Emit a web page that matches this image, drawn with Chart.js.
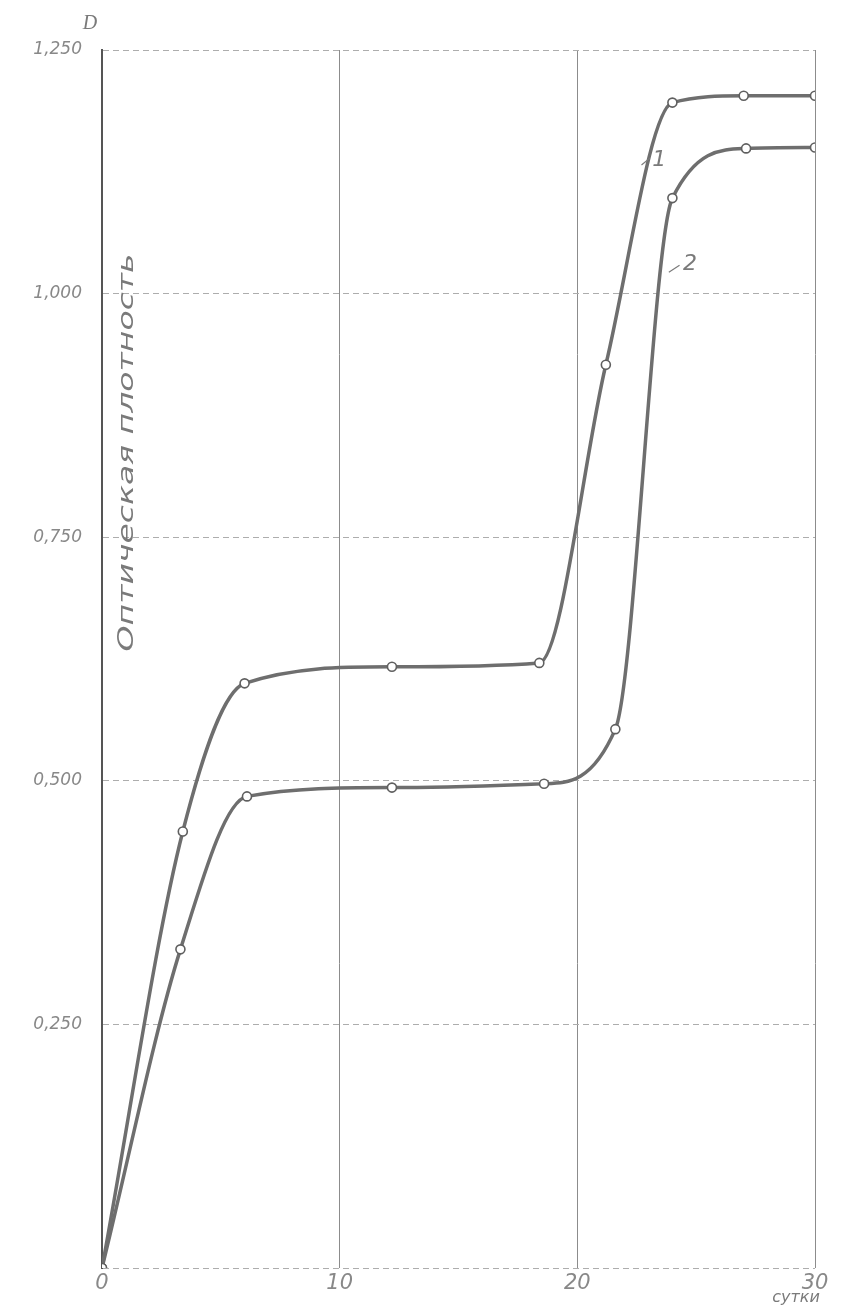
<!DOCTYPE html>
<html>
<head>
<meta charset="utf-8">
<title>Оптическая плотность</title>
<script src="https://cdn.jsdelivr.net/npm/chart.js@4.4.1/dist/chart.umd.min.js"></script>
<style>
  html, body { margin: 0; padding: 0; background: #fff; }
  #wrap { width: 856px; height: 1307px; position: relative; }
</style>
</head>
<body>
<div id="wrap"><canvas id="densityChart"></canvas></div>
<script>
// curve 1 (days, optical density)
const days1 = [0, 3.4, 6.0, 12.2, 18.4, 21.2, 24.0, 27.0, 30.0];
const density1 = [0, 0.448, 0.600, 0.617, 0.621, 0.927, 1.196, 1.203, 1.203];
// curve 2
const days2 = [0, 3.3, 6.1, 12.2, 18.6, 21.6, 24.0, 27.1, 30.0];
const density2 = [0, 0.327, 0.484, 0.493, 0.497, 0.553, 1.098, 1.149, 1.150];

const curveNames = ['1', '2'];
const yTitle = 'Оптическая плотность';
const xUnit = 'сутки';
const yUnit = 'D';

const toPoints = (xs, ys) => xs.map((x, i) => ({ x, y: ys[i] }));

const lineGrey = '#6e6e6e';
const textGrey = '#7a7a7a';

// extra text drawn on top: axis names, curve numbers
const notes = {
  id: 'notes',
  afterDraw(chart) {
    const { ctx, chartArea, scales: { x, y } } = chart;
    ctx.save();
    ctx.fillStyle = textGrey;
    ctx.strokeStyle = textGrey;

    // "D" above the y axis
    ctx.font = 'italic 20px "Liberation Serif"';
    ctx.textAlign = 'center';
    ctx.textBaseline = 'middle';
    ctx.fillText(yUnit, chartArea.left - 12, chartArea.top - 26);

    // "сутки" under the last x tick
    ctx.font = 'italic 16px "DejaVu Sans"';
    ctx.textBaseline = 'bottom';
    ctx.fillText(xUnit, x.getPixelForValue(29.2), 1306);

    // rotated y title inside the plot
    ctx.save();
    ctx.translate(chartArea.left + 26, y.getPixelForValue(0.837));
    ctx.rotate(-Math.PI / 2);
    ctx.font = 'italic 21px "DejaVu Sans"';
    ctx.textBaseline = 'middle';
    const w = ctx.measureText(yTitle).width;
    ctx.scale(398 / w, 1);
    ctx.fillText(yTitle, 0, 0);
    ctx.restore();

    // curve numbers with small leader lines
    ctx.font = 'italic 22px "DejaVu Sans"';
    ctx.textAlign = 'left';
    ctx.textBaseline = 'middle';
    ctx.lineWidth = 1.2;
    const tags = [
      { name: curveNames[0], tx: 23.15, ty: 1.137, lx: [22.7, 23.05], ly: [1.132, 1.139] },
      { name: curveNames[1], tx: 24.45, ty: 1.03, lx: [23.85, 24.3], ly: [1.022, 1.029] }
    ];
    tags.forEach(t => {
      ctx.beginPath();
      ctx.moveTo(x.getPixelForValue(t.lx[0]), y.getPixelForValue(t.ly[0]));
      ctx.lineTo(x.getPixelForValue(t.lx[1]), y.getPixelForValue(t.ly[1]));
      ctx.stroke();
      ctx.fillText(t.name, x.getPixelForValue(t.tx), y.getPixelForValue(t.ty));
    });
    ctx.restore();
  }
};

const ctx = document.getElementById('densityChart');
new Chart(ctx, {
  type: 'line',
  data: {
    datasets: [
      { label: curveNames[0], data: toPoints(days1, density1) },
      { label: curveNames[1], data: toPoints(days2, density2) }
    ]
  },
  options: {
    responsive: true,
    maintainAspectRatio: false,
    animation: false,
    layout: { padding: { top: 50, right: 41, left: 0, bottom: 0 } },
    elements: {
      line: {
        borderColor: lineGrey,
        borderWidth: 3.5,
        cubicInterpolationMode: 'monotone',
        fill: false
      },
      point: {
        radius: 4.5,
        backgroundColor: '#fff',
        borderColor: '#5f5f5f',
        borderWidth: 1.6
      }
    },
    plugins: {
      legend: { display: false },
      tooltip: { enabled: false }
    },
    scales: {
      x: {
        type: 'linear',
        min: 0,
        max: 30,
        afterFit: s => { s.height = 39; },
        ticks: {
          stepSize: 10,
          padding: 3,
          color: '#888',
          font: { family: 'DejaVu Sans', style: 'italic', size: 21 }
        },
        grid: { color: '#8c8c8c', lineWidth: 1, drawTicks: false },
        border: { display: false }
      },
      y: {
        min: 0,
        max: 1.25,
        afterFit: s => { s.width = 102; },
        ticks: {
          stepSize: 0.25,
          padding: 20,
          color: '#888',
          font: { family: 'DejaVu Sans', style: 'italic', size: 17 },
          callback: v => v === 0 ? '' : v.toFixed(3).replace('.', ',')
        },
        grid: { color: '#adadad', lineWidth: 1, drawTicks: false },
        border: { display: true, color: '#555', width: 2, dash: [6, 4] }
      }
    }
  },
  plugins: [notes]
});
</script>
</body>
</html>
